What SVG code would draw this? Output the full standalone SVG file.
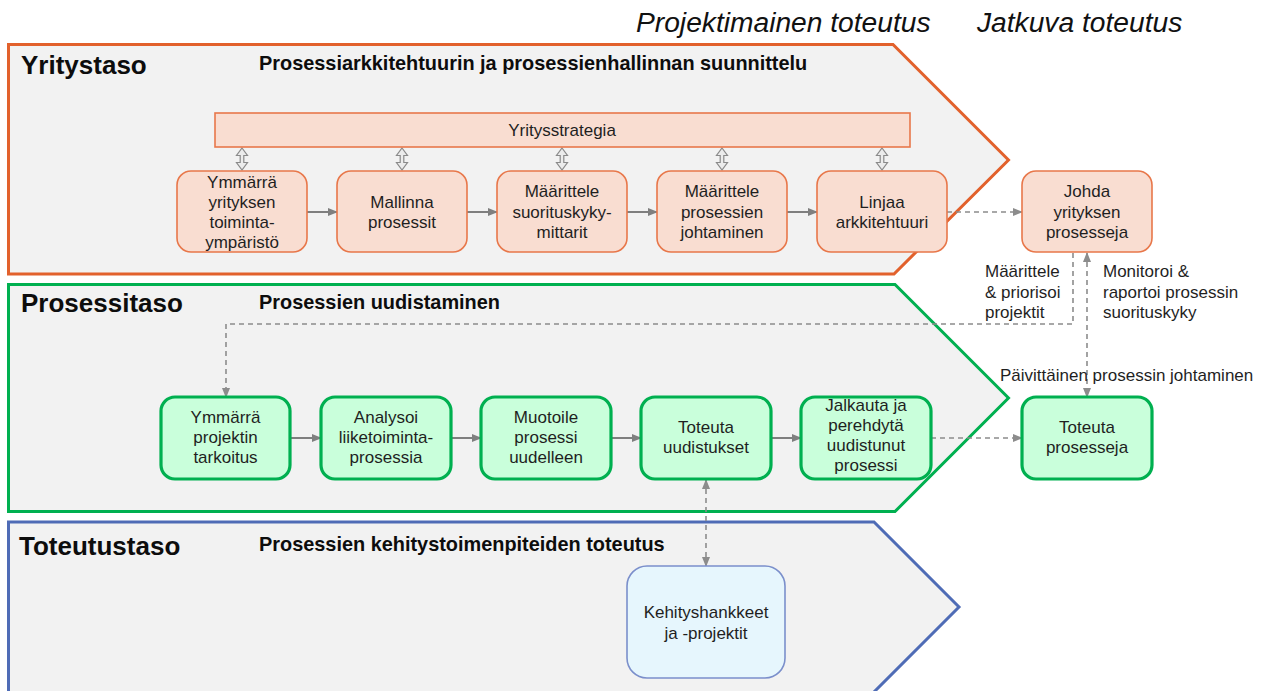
<svg xmlns="http://www.w3.org/2000/svg" width="1264" height="691" viewBox="0 0 1264 691">
  <style>
    text { font-family: "Liberation Sans", Arial, sans-serif; fill: #1f1f1f; }
    .lvl { font-size: 26px; font-weight: bold; fill: #0d0d0d; }
    .ttl { font-size: 19.9px; font-weight: bold; fill: #0d0d0d; }
    .hdr { font-size: 28.2px; font-style: italic; fill: #111; }
    .bx { font-size: 17px; text-anchor: middle; }
    .lbl { font-size: 17px; }
    .band { fill: #f2f2f2; stroke-width: 3; stroke-linejoin: miter; }
    .obox { fill: #f9ddd1; stroke: #e8774a; stroke-width: 1.6; }
    .gbox { fill: #c9ffdb; stroke: #00b050; stroke-width: 3.2; }
    .bbox { fill: #e6f6fd; stroke: #7b8fcb; stroke-width: 1.6; }
    .flow { fill: none; stroke: #7f7f7f; stroke-width: 2; }
    .dash { fill: none; stroke: #8c8c8c; stroke-width: 1.6; stroke-dasharray: 5 4; }
    .dbl { fill: #ececec; stroke: #8a8a8a; stroke-width: 1.2; stroke-linejoin: miter; }
  </style>
  <defs>
    <marker id="ah" markerUnits="userSpaceOnUse" markerWidth="10" markerHeight="10" viewBox="0 0 10 10" refX="9" refY="5" orient="auto-start-reverse">
      <path d="M0,1 L10,5 L0,9 Z" fill="#7f7f7f"/>
    </marker>
    <marker id="ahd" markerUnits="userSpaceOnUse" markerWidth="10" markerHeight="10" viewBox="0 0 10 10" refX="9" refY="5" orient="auto-start-reverse">
      <path d="M0,1 L10,5 L0,9 Z" fill="#8c8c8c"/>
    </marker>
    <!-- two-headed link between the strategy bar and a box -->
    <path id="dblArrow" d="M0,0 L5.5,7.5 L1.8,7.5 L1.8,14.5 L5.5,14.5 L0,22 L-5.5,14.5 L-1.8,14.5 L-1.8,7.5 L-5.5,7.5 Z"/>
  </defs>

  <!-- phase headings -->
  <text class="hdr" x="636" y="32">Projektimainen toteutus</text>
  <text class="hdr" x="977" y="32">Jatkuva toteutus</text>

  <!-- level bands -->
  <g id="band-yritystaso">
    <path class="band" stroke="#e2612c" d="M8.5,44.5 H893 L1008.5,160 L894,274 H8.5 Z"/>
    <text class="lvl" x="21" y="74">Yritystaso</text>
    <text class="ttl" x="259" y="70">Prosessiarkkitehtuurin ja prosessienhallinnan suunnittelu</text>
  </g>
  <g id="band-prosessitaso">
    <path class="band" stroke="#00b050" d="M8.5,284.5 H895 L1008.5,398 L895,511.5 H8.5 Z"/>
    <text class="lvl" x="21" y="312">Prosessitaso</text>
    <text class="ttl" x="259" y="309">Prosessien uudistaminen</text>
  </g>
  <g id="band-toteutustaso">
    <path class="band" stroke="#4f6cb6" stroke-width="2.6" d="M8.5,522 H874 L959,607 L852,714 H8.5 Z"/>
    <text class="lvl" x="19" y="555">Toteutustaso</text>
    <text class="ttl" x="259" y="551">Prosessien kehitystoimenpiteiden toteutus</text>
  </g>

  <!-- connectors -->
  <g id="connectors">
    <!-- strategy bar links -->
    <use href="#dblArrow" class="dbl" x="242" y="148"/>
    <use href="#dblArrow" class="dbl" x="402" y="148"/>
    <use href="#dblArrow" class="dbl" x="562" y="148"/>
    <use href="#dblArrow" class="dbl" x="722" y="148"/>
    <use href="#dblArrow" class="dbl" x="882" y="148"/>
    <!-- enterprise-level flow -->
    <path class="flow" marker-end="url(#ah)" d="M307,212 H337"/>
    <path class="flow" marker-end="url(#ah)" d="M467,212 H497"/>
    <path class="flow" marker-end="url(#ah)" d="M627,212 H657"/>
    <path class="flow" marker-end="url(#ah)" d="M787,212 H817"/>
    <path class="dash" marker-end="url(#ahd)" d="M947,212 H1022"/>
    <!-- process-level flow -->
    <path class="flow" marker-end="url(#ah)" d="M290,438 H321"/>
    <path class="flow" marker-end="url(#ah)" d="M451,438 H481"/>
    <path class="flow" marker-end="url(#ah)" d="M611,438 H641"/>
    <path class="flow" marker-end="url(#ah)" d="M771,438 H801"/>
    <path class="dash" marker-end="url(#ahd)" d="M931,438 H1022"/>
    <!-- project definition loop -->
    <path class="dash" marker-end="url(#ahd)" d="M1073,253 V324 H226 V397"/>
    <!-- monitoring / daily management -->
    <path class="dash" marker-start="url(#ahd)" marker-end="url(#ahd)" d="M1087,253 V397"/>
    <!-- implementation link -->
    <path class="dash" marker-start="url(#ahd)" marker-end="url(#ahd)" d="M706,480 V566"/>
  </g>

  <!-- connector labels -->
  <g id="labels">
    <text class="lbl" x="985" y="277">Määrittele</text>
    <text class="lbl" x="985" y="298">&amp; priorisoi</text>
    <text class="lbl" x="985" y="318">projektit</text>
    <text class="lbl" x="1103" y="277">Monitoroi &amp;</text>
    <text class="lbl" x="1103" y="298">raportoi prosessin</text>
    <text class="lbl" x="1103" y="318">suorituskyky</text>
    <text class="lbl" x="1000" y="381">Päivittäinen prosessin johtaminen</text>
  </g>

  <!-- enterprise level nodes -->
  <g id="yritysstrategia">
    <rect class="obox" x="215" y="113" width="695" height="34"/>
    <text class="bx" x="562" y="136">Yritysstrategia</text>
  </g>
  <g id="ymmarra-yrityksen">
    <rect class="obox" x="177" y="171" width="130" height="81" rx="14"/>
    <text class="bx" x="242" y="188">Ymmärrä</text>
    <text class="bx" x="242" y="208">yrityksen</text>
    <text class="bx" x="242" y="228">toiminta-</text>
    <text class="bx" x="242" y="248">ympäristö</text>
  </g>
  <g id="mallinna">
    <rect class="obox" x="337" y="171" width="130" height="81" rx="14"/>
    <text class="bx" x="402" y="208">Mallinna</text>
    <text class="bx" x="402" y="228">prosessit</text>
  </g>
  <g id="maarittele-mittarit">
    <rect class="obox" x="497" y="171" width="130" height="81" rx="14"/>
    <text class="bx" x="562" y="197">Määrittele</text>
    <text class="bx" x="562" y="218">suorituskyky-</text>
    <text class="bx" x="562" y="238">mittarit</text>
  </g>
  <g id="maarittele-johtaminen">
    <rect class="obox" x="657" y="171" width="130" height="81" rx="14"/>
    <text class="bx" x="722" y="197">Määrittele</text>
    <text class="bx" x="722" y="218">prosessien</text>
    <text class="bx" x="722" y="238">johtaminen</text>
  </g>
  <g id="linjaa">
    <rect class="obox" x="817" y="171" width="130" height="81" rx="14"/>
    <text class="bx" x="882" y="208">Linjaa</text>
    <text class="bx" x="882" y="228">arkkitehtuuri</text>
  </g>
  <g id="johda">
    <rect class="obox" x="1022" y="171" width="130" height="81" rx="14"/>
    <text class="bx" x="1087" y="197">Johda</text>
    <text class="bx" x="1087" y="218">yrityksen</text>
    <text class="bx" x="1087" y="238">prosesseja</text>
  </g>

  <!-- process level nodes -->
  <g id="ymmarra-projektin">
    <rect class="gbox" x="161" y="397" width="129" height="82" rx="14"/>
    <text class="bx" x="225.5" y="423">Ymmärrä</text>
    <text class="bx" x="225.5" y="443">projektin</text>
    <text class="bx" x="225.5" y="463">tarkoitus</text>
  </g>
  <g id="analysoi">
    <rect class="gbox" x="321" y="397" width="130" height="82" rx="14"/>
    <text class="bx" x="386" y="423">Analysoi</text>
    <text class="bx" x="386" y="443">liiketoiminta-</text>
    <text class="bx" x="386" y="463">prosessia</text>
  </g>
  <g id="muotoile">
    <rect class="gbox" x="481" y="397" width="130" height="82" rx="14"/>
    <text class="bx" x="546" y="423">Muotoile</text>
    <text class="bx" x="546" y="443">prosessi</text>
    <text class="bx" x="546" y="463">uudelleen</text>
  </g>
  <g id="toteuta-uudistukset">
    <rect class="gbox" x="641" y="397" width="130" height="82" rx="14"/>
    <text class="bx" x="706" y="433">Toteuta</text>
    <text class="bx" x="706" y="453">uudistukset</text>
  </g>
  <g id="jalkauta">
    <rect class="gbox" x="801" y="397" width="130" height="82" rx="14"/>
    <text class="bx" x="866" y="411">Jalkauta ja</text>
    <text class="bx" x="866" y="431">perehdytä</text>
    <text class="bx" x="866" y="451">uudistunut</text>
    <text class="bx" x="866" y="471">prosessi</text>
  </g>
  <g id="toteuta-prosesseja">
    <rect class="gbox" x="1022" y="397" width="130" height="82" rx="14"/>
    <text class="bx" x="1087" y="433">Toteuta</text>
    <text class="bx" x="1087" y="453">prosesseja</text>
  </g>

  <!-- implementation level node -->
  <g id="kehityshankkeet">
    <rect class="bbox" x="627" y="566" width="158" height="112" rx="20"/>
    <text class="bx" x="706" y="618">Kehityshankkeet</text>
    <text class="bx" x="706" y="639">ja -projektit</text>
  </g>
</svg>
